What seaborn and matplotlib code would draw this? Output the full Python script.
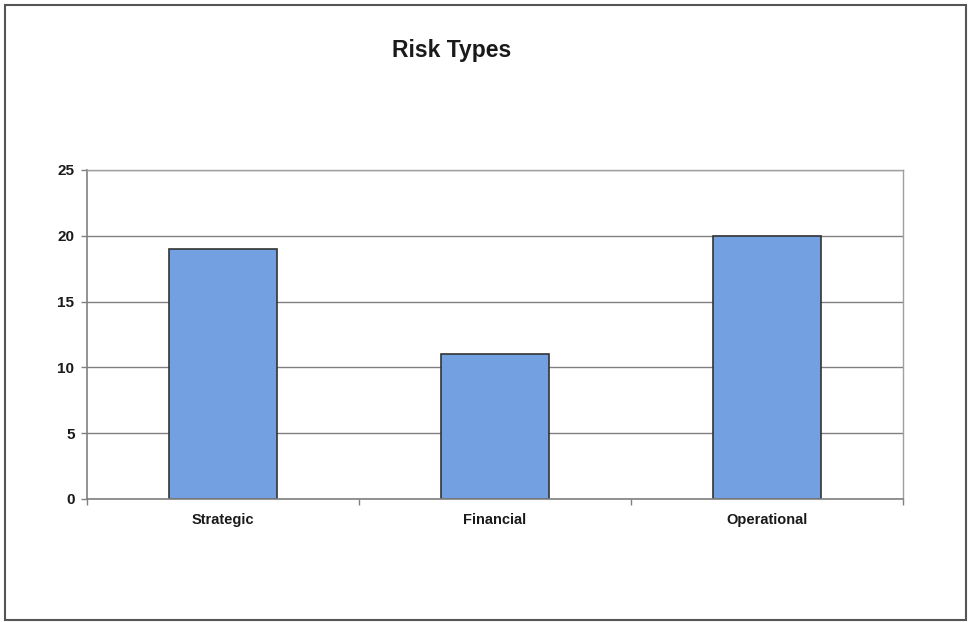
import matplotlib
matplotlib.use("Agg")
import matplotlib.pyplot as plt
import seaborn as sns
import pandas as pd
from matplotlib.patches import Rectangle

categories = ["Strategic", "Financial", "Operational"]
counts = [19, 11, 20]
y_ticks = [0, 5, 10, 15, 20, 25]

df = pd.DataFrame({"Risk Type": categories, "Count": counts})

sns.set_theme(style="white")
plt.rcParams["font.family"] = ["Liberation Sans", "DejaVu Sans"]

fig = plt.figure(figsize=(9.68, 6.22), dpi=100)
ax = fig.add_axes([87 / 968, 123 / 622, 816 / 968, 329 / 622])

sns.barplot(data=df, x="Risk Type", y="Count", ax=ax, width=0.4,
            color="#72A0E0", edgecolor="#333333", linewidth=1.2, saturation=1)

ax.set_ylim(0, 25)
ax.set_xlim(-0.5, 2.5)
ax.set_yticks(y_ticks)
ax.set_yticklabels([str(t) for t in y_ticks], fontsize=11, fontweight="bold",
                   color="#1a1a1a")
ax.set_xticks(range(len(categories)))
ax.set_xticklabels(categories, fontsize=10.5, fontweight="bold", color="#1a1a1a")
ax.set_xlabel("")
ax.set_ylabel("")

# horizontal gridlines behind the bars
ax.set_axisbelow(True)
ax.yaxis.grid(True, color="#808080", linewidth=1.0)
ax.xaxis.grid(False)

for side in ["left", "bottom"]:
    ax.spines[side].set_color("#808080")
    ax.spines[side].set_linewidth(1.2)
for side in ["top", "right"]:
    ax.spines[side].set_color("#A0A0A0")
    ax.spines[side].set_linewidth(1.0)

ax.tick_params(axis="y", left=True, length=4, width=1, color="#808080", pad=5)
ax.tick_params(axis="x", bottom=False, pad=4)
# category separator ticks on the x axis
ax.set_xticks([-0.5, 0.5, 1.5, 2.5], minor=True)
ax.tick_params(axis="x", which="minor", bottom=True, length=4, width=1, color="#808080")

fig.text(452 / 968, 1 - 50 / 622, "Risk Types", ha="center", va="center",
         fontsize=16.5, fontweight="bold", color="#1a1a1a")

# chart area border
fig.patches.append(Rectangle((5 / 968, 2 / 622), 961 / 968, 615 / 622,
                             transform=fig.transFigure, fill=False,
                             edgecolor="#555555", linewidth=1.5))

fig.savefig("out.png", dpi=100, facecolor="white")
